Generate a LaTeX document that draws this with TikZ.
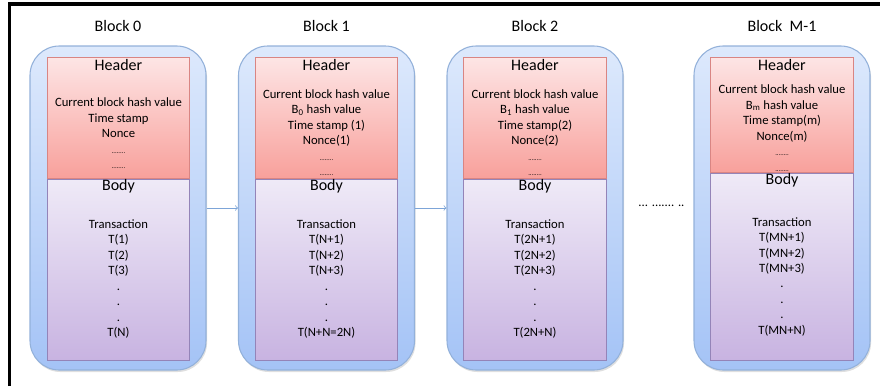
\documentclass[tikz,border=0pt]{standalone}
\usepackage{fontspec}
\setmainfont{Carlito}
\usetikzlibrary{positioning,shadows}

\definecolor{outtop}{HTML}{DDE9FC}
\definecolor{outbot}{HTML}{A4C3F6}
\definecolor{outline}{HTML}{93B1DA}
\definecolor{hdrtop}{HTML}{FDE5E5}
\definecolor{hdrbot}{HTML}{F8A09B}
\definecolor{hdrline}{HTML}{D98583}
\definecolor{bdytop}{HTML}{EFEAF7}
\definecolor{bdybot}{HTML}{C8B3E1}
\definecolor{bdyline}{HTML}{9484B8}
\definecolor{linkc}{HTML}{7DA5D8}

\newcommand{\dts}{{\tiny ........}}

\begin{document}
\begin{tikzpicture}[x=0.75pt,y=-0.75pt,node distance=0pt,
	outer/.style={draw=outline, line width=0.8pt, rounded corners=22pt, top color=outtop, bottom color=outbot,
		minimum width=132pt, minimum height=243pt,
		drop shadow={opacity=0.25, shadow xshift=0.8pt, shadow yshift=-1.5pt}},
	hdr/.style={draw=hdrline, line width=0.6pt, top color=hdrtop, bottom color=hdrbot,
		minimum width=107pt, minimum height=90.75pt, anchor=north, inner sep=0pt},
	bdy/.style={draw=bdyline, line width=0.6pt, top color=bdytop, bottom color=bdybot,
		minimum width=107pt, minimum height=135.75pt, inner sep=0pt},
	ttl/.style={font=\fontsize{12}{14}\selectfont, inner sep=0pt},
	txt/.style={font=\fontsize{9.5}{11.6}\selectfont, align=center, inner sep=0pt},
	link/.style={->, draw=linkc, line width=0.6pt}]

	\useasboundingbox (0,0) rectangle (880,386);
	\draw[line width=2.3pt] (9.5,386) -- (9.5,4) -- (880,4);

	% Block 0
	\node[outer] (out0) at (118,208) {};
	\node[hdr] (hdr0) at (118.5,57) {};
	\node[bdy] (bdy0) [below=of hdr0] {};
	\node[ttl] (ttl0) [above=10.5pt of out0] {Block 0};
	\node[ttl] (hl0) at ([yshift=-6pt]hdr0.north) {Header};
	\node[txt] (ht0) at ([yshift=-11.5pt]hdr0.center) {Current block hash value\\Time stamp\\Nonce\\\dts\\\dts};
	\node[ttl] (bl0) at ([yshift=-5.5pt]bdy0.north) {Body};
	\node[txt] (bt0) at ([yshift=-7pt]bdy0.center) {Transaction\\T(1)\\T(2)\\T(3)\\.\\.\\.\\T(N)};

	% Block 1
	\node[outer] (out1) at (326.5,208) {};
	\node[hdr] (hdr1) at (326.5,57) {};
	\node[bdy] (bdy1) [below=of hdr1] {};
	\node[ttl] (ttl1) [above=10.5pt of out1] {Block 1};
	\node[ttl] (hl1) at ([yshift=-6pt]hdr1.north) {Header};
	\node[txt] (ht1) at ([yshift=-11pt]hdr1.center) {Current block hash value\\B\textsubscript{0} hash value\\Time stamp (1)\\Nonce(1)\\\dts\\\dts};
	\node[ttl] (bl1) at ([yshift=-5.5pt]bdy1.north) {Body};
	\node[txt] (bt1) at ([yshift=-7pt]bdy1.center) {Transaction\\T(N+1)\\T(N+2)\\T(N+3)\\.\\.\\.\\T(N+N=2N)};

	% Block 2
	\node[outer] (out2) at (535,208) {};
	\node[hdr] (hdr2) at (535,57) {};
	\node[bdy] (bdy2) [below=of hdr2] {};
	\node[ttl] (ttl2) [above=10.5pt of out2] {Block 2};
	\node[ttl] (hl2) at ([yshift=-6pt]hdr2.north) {Header};
	\node[txt] (ht2) at ([yshift=-11pt]hdr2.center) {Current block hash value\\B\textsubscript{1} hash value\\Time stamp(2)\\Nonce(2)\\\dts\\\dts};
	\node[ttl] (bl2) at ([yshift=-5.5pt]bdy2.north) {Body};
	\node[txt] (bt2) at ([yshift=-7pt]bdy2.center) {Transaction\\T(2N+1)\\T(2N+2)\\T(2N+3)\\.\\.\\.\\T(2N+N)};

	% Block M-1
	\node[outer] (out3) at (782,208) {};
	\node[hdr, minimum height=86.25pt] (hdr3) at (782,57) {};
	\node[bdy, minimum height=140.25pt] (bdy3) [below=of hdr3] {};
	\node[ttl] (ttl3) [above=10.5pt of out3] {Block~ M-1};
	\node[ttl] (hl3) at ([yshift=-6pt]hdr3.north) {Header};
	\node[txt] (ht3) at ([yshift=-10pt]hdr3.center) {Current block hash value\\B\textsubscript{m} hash value\\Time stamp(m)\\Nonce(m)\\\dts\\\dts};
	\node[ttl] (bl3) at ([yshift=-5.5pt]bdy3.north) {Body};
	\node[txt] (bt3) at ([yshift=-7.5pt]bdy3.center) {Transaction\\T(MN+1)\\T(MN+2)\\T(MN+3)\\.\\.\\.\\T(MN+N)};

	\node[txt, anchor=west] (gap) [right=11pt of out2, yshift=2pt] {... ....... ..};

	\path[link]
	(out0) edge (out1)
	(out1) edge (out2)
	;
\end{tikzpicture}
\end{document}
